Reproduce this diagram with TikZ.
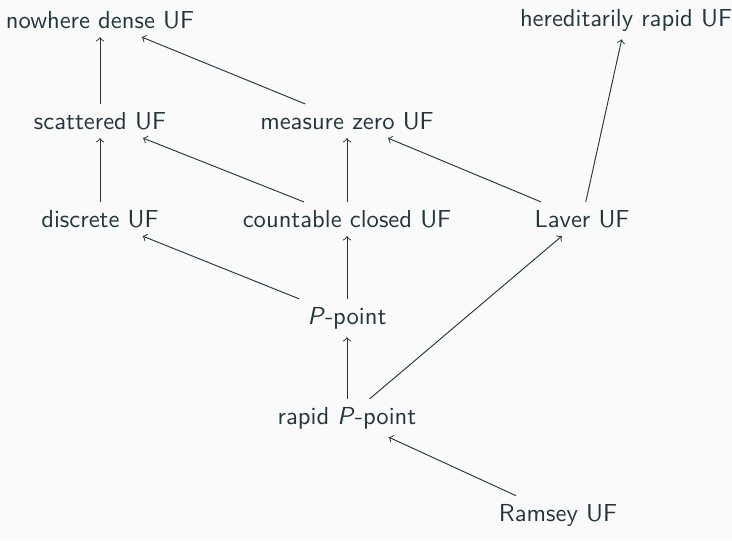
\documentclass[tikz,border=0pt]{standalone}
\usepackage{fontspec}
\renewcommand{\familydefault}{\sfdefault}
\definecolor{bgc}{HTML}{FAFAFA}
\definecolor{fgc}{HTML}{23373B}
\begin{document}
\begin{tikzpicture}[x=0.015cm,y=-0.015cm,
  every node/.style={text=fgc,font=\sffamily\fontsize{10.5}{12.6}\selectfont},
  arr/.style={->,draw=fgc,line width=0.4pt}]
\fill[bgc] (0,0) rectangle (732,540);
\useasboundingbox (0,0) rectangle (732,540);
\node (nd) at (100,20) {nowhere dense UF};
\node (hr) at (626,20) {hereditarily rapid UF};
\node (sc) at (100,121) {scattered UF};
\node (mz) at (347,121) {measure zero UF};
\node (di) at (100,219) {discrete UF};
\node (cc) at (347,219) {countable closed UF};
\node (lv) at (582,219) {Laver UF};
\node (pp) at (347,318) {\textit{P}-point};
\node (rp) at (347,418) {rapid \textit{P}-point};
\node (rm) at (558,515) {Ramsey UF};
\draw[arr] (sc) -- (nd);
\draw[arr] (mz) -- (nd);
\draw[arr] (di) -- (sc);
\draw[arr] (cc) -- (sc);
\draw[arr] (cc) -- (mz);
\draw[arr] (lv) -- (mz);
\draw[arr] (lv) -- (hr);
\draw[arr] (pp) -- (di);
\draw[arr] (pp) -- (cc);
\draw[arr] (rp) -- (pp);
\draw[arr] (rp) -- (lv);
\draw[arr] (rm) -- (rp);
\end{tikzpicture}
\end{document}
